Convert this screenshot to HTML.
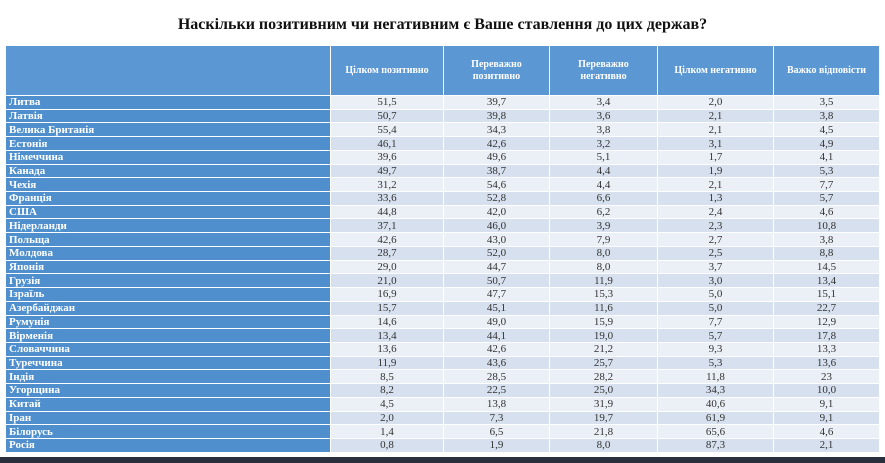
<!DOCTYPE html>
<html><head><meta charset="utf-8"><style>
html,body{margin:0;padding:0;width:885px;height:463px;overflow:hidden;background:#fff;font-family:"Liberation Serif",serif;}
.t{position:absolute;left:0;top:16px;width:885px;text-align:center;font-weight:bold;font-size:16px;color:#111;}
table{position:absolute;left:5px;top:45px;border-collapse:collapse;table-layout:fixed;width:874px;}
td,th{border:1.5px solid #fff;padding:0;}
th{background:#5b97d2;color:#fff;font-size:10px;font-weight:bold;height:49px;text-align:center;line-height:12px;}
tbody tr{height:13.73px;}
td{height:12.2px;font-size:11px;line-height:12px;text-align:center;color:#333;}
td.n{background:#4f8fcd;color:#fff;font-weight:bold;text-align:left;padding-left:3px;font-size:11px;}
tr:nth-child(even) td{background:#d6e0ee;}
tr:nth-child(odd) td{background:#ebf0f7;}
tr td.n{background:#4f8fcd !important;}
.bar{position:absolute;left:0;top:457px;width:885px;height:6px;background:#2b2e3b;}
</style></head><body>
<div class="t">Наскільки позитивним чи негативним є Ваше ставлення до цих держав?</div>
<table>
<colgroup><col style="width:325px"><col style="width:113px"><col style="width:106px"><col style="width:108px"><col style="width:116px"><col style="width:106px"></colgroup>
<thead><tr><th></th><th>Цілком позитивно</th><th>Переважно<br>позитивно</th><th>Переважно<br>негативно</th><th>Цілком негативно</th><th>Важко відповісти</th></tr></thead>
<tbody>
<tr><td class="n">Литва</td><td>51,5</td><td>39,7</td><td>3,4</td><td>2,0</td><td>3,5</td></tr>
<tr><td class="n">Латвія</td><td>50,7</td><td>39,8</td><td>3,6</td><td>2,1</td><td>3,8</td></tr>
<tr><td class="n">Велика Британія</td><td>55,4</td><td>34,3</td><td>3,8</td><td>2,1</td><td>4,5</td></tr>
<tr><td class="n">Естонія</td><td>46,1</td><td>42,6</td><td>3,2</td><td>3,1</td><td>4,9</td></tr>
<tr><td class="n">Німеччина</td><td>39,6</td><td>49,6</td><td>5,1</td><td>1,7</td><td>4,1</td></tr>
<tr><td class="n">Канада</td><td>49,7</td><td>38,7</td><td>4,4</td><td>1,9</td><td>5,3</td></tr>
<tr><td class="n">Чехія</td><td>31,2</td><td>54,6</td><td>4,4</td><td>2,1</td><td>7,7</td></tr>
<tr><td class="n">Франція</td><td>33,6</td><td>52,8</td><td>6,6</td><td>1,3</td><td>5,7</td></tr>
<tr><td class="n">США</td><td>44,8</td><td>42,0</td><td>6,2</td><td>2,4</td><td>4,6</td></tr>
<tr><td class="n">Нідерланди</td><td>37,1</td><td>46,0</td><td>3,9</td><td>2,3</td><td>10,8</td></tr>
<tr><td class="n">Польща</td><td>42,6</td><td>43,0</td><td>7,9</td><td>2,7</td><td>3,8</td></tr>
<tr><td class="n">Молдова</td><td>28,7</td><td>52,0</td><td>8,0</td><td>2,5</td><td>8,8</td></tr>
<tr><td class="n">Японія</td><td>29,0</td><td>44,7</td><td>8,0</td><td>3,7</td><td>14,5</td></tr>
<tr><td class="n">Грузія</td><td>21,0</td><td>50,7</td><td>11,9</td><td>3,0</td><td>13,4</td></tr>
<tr><td class="n">Ізраїль</td><td>16,9</td><td>47,7</td><td>15,3</td><td>5,0</td><td>15,1</td></tr>
<tr><td class="n">Азербайджан</td><td>15,7</td><td>45,1</td><td>11,6</td><td>5,0</td><td>22,7</td></tr>
<tr><td class="n">Румунія</td><td>14,6</td><td>49,0</td><td>15,9</td><td>7,7</td><td>12,9</td></tr>
<tr><td class="n">Вірменія</td><td>13,4</td><td>44,1</td><td>19,0</td><td>5,7</td><td>17,8</td></tr>
<tr><td class="n">Словаччина</td><td>13,6</td><td>42,6</td><td>21,2</td><td>9,3</td><td>13,3</td></tr>
<tr><td class="n">Туреччина</td><td>11,9</td><td>43,6</td><td>25,7</td><td>5,3</td><td>13,6</td></tr>
<tr><td class="n">Індія</td><td>8,5</td><td>28,5</td><td>28,2</td><td>11,8</td><td>23</td></tr>
<tr><td class="n">Угорщина</td><td>8,2</td><td>22,5</td><td>25,0</td><td>34,3</td><td>10,0</td></tr>
<tr><td class="n">Китай</td><td>4,5</td><td>13,8</td><td>31,9</td><td>40,6</td><td>9,1</td></tr>
<tr><td class="n">Іран</td><td>2,0</td><td>7,3</td><td>19,7</td><td>61,9</td><td>9,1</td></tr>
<tr><td class="n">Білорусь</td><td>1,4</td><td>6,5</td><td>21,8</td><td>65,6</td><td>4,6</td></tr>
<tr><td class="n">Росія</td><td>0,8</td><td>1,9</td><td>8,0</td><td>87,3</td><td>2,1</td></tr>
</tbody></table>
<div class="bar"></div>
</body></html>
